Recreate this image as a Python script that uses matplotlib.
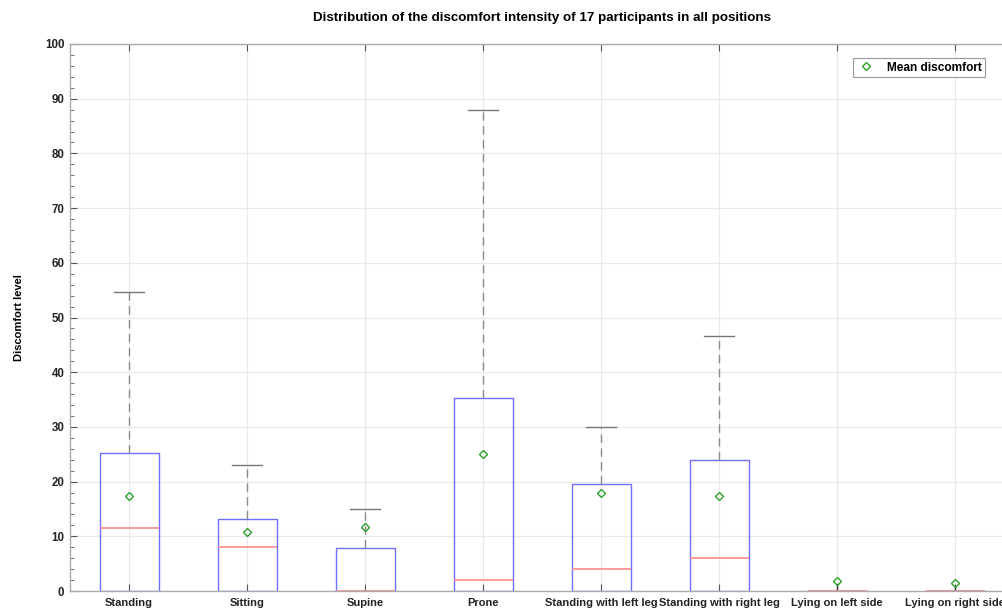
import matplotlib
matplotlib.use("Agg")
import matplotlib.pyplot as plt
from matplotlib.ticker import MultipleLocator

plt.rcParams['font.family'] = ['Liberation Sans', 'DejaVu Sans']

positions_labels = ["Standing", "Sitting", "Supine", "Prone", "Standing with left leg",
                    "Standing with right leg", "Lying on left side", "Lying on right side"]
q1 = [0, 0, 0, 0, 0, 0, 0, 0]
q3 = [25.3, 13.1, 7.8, 35.3, 19.5, 24.0, 0, 0]
median = [11.6, 8.0, 0, 2.0, 4.0, 6.0, 0, 0]
whisker_low = [0, 0, 0, 0, 0, 0, 0, 0]
whisker_high = [54.6, 23.0, 15.0, 88.0, 30.0, 46.7, 1.3, 1.0]
mean = [17.3, 10.8, 11.7, 25.0, 17.9, 17.3, 1.8, 1.5]

fig = plt.figure(figsize=(10.02, 6.08), dpi=100)
ax = fig.add_axes([70/1002, 1-591/608, (1014-70)/1002, (591-44)/608])

stats = []
for i, lab in enumerate(positions_labels):
    stats.append(dict(label=lab, q1=q1[i], q3=q3[i], med=median[i],
                      whislo=whisker_low[i], whishi=whisker_high[i], mean=mean[i], fliers=[]))

pos = list(range(1, len(stats) + 1))
res = ax.bxp(stats, positions=pos, widths=0.5, showmeans=False, showfliers=False,
             boxprops=dict(color='#7070ff', linewidth=1.0),
             medianprops=dict(color='#ff8a8a', linewidth=1.2),
             whiskerprops=dict(color='#8a8a8a', linewidth=1.0, linestyle=(0, (6, 4))),
             capprops=dict(color='#777777', linewidth=1.0),
             capwidths=0.25)
# hide caps where there is no visible whisker end
for i in range(len(stats)):
    if whisker_high[i] - q3[i] < 3:
        res['caps'][2*i+1].set_visible(False)
        res['whiskers'][2*i+1].set_color('#333333')
        res['whiskers'][2*i+1].set_linestyle('-')
    res['caps'][2*i].set_visible(False)

ax.plot(pos, mean, linestyle='none', marker='D', markersize=4, markerfacecolor='none',
        markeredgecolor='#2ca02c', markeredgewidth=1.0, label='Mean discomfort', zorder=5)

ax.set_xlim(0.5, 8.5)
ax.set_ylim(0, 100)
ax.set_xticks(pos)
ax.set_xticklabels(positions_labels, fontsize=8, fontweight='bold')
ax.yaxis.set_major_locator(MultipleLocator(10))
ax.yaxis.set_minor_locator(MultipleLocator(2))
for t in ax.get_yticklabels():
    t.set_fontweight('bold'); t.set_fontsize(8.3)
ax.tick_params(which='both', direction='in', top=True, right=True, colors='#555555', labelcolor='#222222')
ax.tick_params(which='major', length=5, width=0.8)
ax.tick_params(which='minor', length=3, width=0.6)
ax.tick_params(axis='x', pad=5)
ax.tick_params(axis='y', pad=4)
ax.grid(True, which='major', color='#e8e8e8', linewidth=0.8)
ax.set_axisbelow(True)
for s in ax.spines.values():
    s.set_color('#aaaaaa'); s.set_linewidth(1.0)

ax.set_ylabel('Discomfort level', fontsize=8, fontweight='bold', labelpad=15)
fig.text(542/1002, 1-18/608, 'Distribution of the discomfort intensity of 17 participants in all positions',
         ha='center', va='center', fontsize=9.6, fontweight='bold')

leg = ax.legend(loc='upper right', bbox_to_anchor=(985/1002, 1-58/608), bbox_transform=fig.transFigure,
                borderaxespad=0, fancybox=False, framealpha=1, edgecolor='#999999', borderpad=0.3,
                handletextpad=0.9, handlelength=1.6, prop=dict(size=8.6, weight='bold'))
leg.get_frame().set_linewidth(0.8)

fig.savefig('out.png', dpi=100)
